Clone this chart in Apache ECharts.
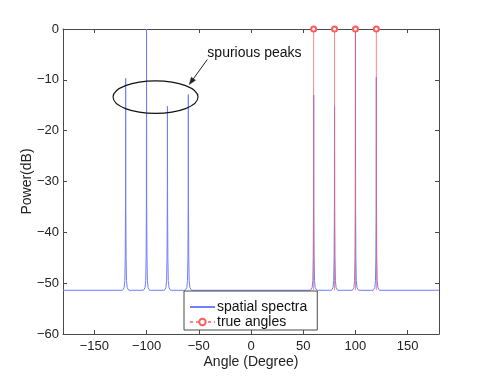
<!DOCTYPE html>
<html>
<head>
<meta charset="utf-8">
<script src="https://cdn.jsdelivr.net/npm/echarts@6/dist/echarts.min.js"></script>
<style>html,body{margin:0;padding:0;background:#fff}#c{width:485px;height:377px}</style>
</head>
<body>
<div id="c"></div>
<script>
// ---- data ----
const xTicks = [-150, -100, -50, 0, 50, 100, 150];
const yTicks = [-60, -50, -40, -30, -20, -10, 0];
const baselineDb = -51.4;
const trueAngles = [60, 80, 100, 120];
const trueAnglePower = [0, 0, 0, 0];
// spatial spectrum (Angle in degrees, power in dB)
const spectrumAngle = [
  -180,
  -123, -121.5, -120.8, -120.4, -120.15, -120, -119.85, -119.6, -119.2, -118.5, -117,
  -103, -101.5, -100.8, -100.4, -100.15, -100, -99.85, -99.6, -99.2, -98.5, -97,
  -83, -81.5, -80.8, -80.4, -80.15, -80, -79.85, -79.6, -79.2, -78.5, -77,
  -63, -61.5, -60.8, -60.4, -60.15, -60, -59.85, -59.6, -59.2, -58.5, -57,
  57, 58.5, 59.2, 59.6, 59.85, 60, 60.15, 60.4, 60.8, 61.5, 63,
  77, 78.5, 79.2, 79.6, 79.85, 80, 80.15, 80.4, 80.8, 81.5, 83,
  97, 98.5, 99.2, 99.6, 99.85, 100, 100.15, 100.4, 100.8, 101.5, 103,
  117, 118.5, 119.2, 119.6, 119.85, 120, 120.15, 120.4, 120.8, 121.5, 123,
  180
];
const spectrumPower = [
  -51.4,
  -51.4, -50.9, -49.5, -45, -35, -9.7, -35, -45, -49.5, -50.9, -51.4,
  -51.4, -50.9, -49.5, -45, -35, 0, -35, -45, -49.5, -50.9, -51.4,
  -51.4, -50.9, -49.5, -45, -35, -15.2, -35, -45, -49.5, -50.9, -51.4,
  -51.4, -50.9, -49.5, -45, -35, -12.9, -35, -45, -49.5, -50.9, -51.4,
  -51.4, -50.9, -49.5, -45, -35, -13, -35, -45, -49.5, -50.9, -51.4,
  -51.4, -50.9, -49.5, -45, -35, -15.2, -35, -45, -49.5, -50.9, -51.4,
  -51.4, -50.9, -49.5, -45, -35, 0, -35, -45, -49.5, -50.9, -51.4,
  -51.4, -50.9, -49.5, -45, -35, -9.5, -35, -45, -49.5, -50.9, -51.4,
  -51.4
];
// annotation (data coordinates)
const noteText = 'spurious peaks';
const noteAnchor = [-41.8, -4.7];
const arrowFrom = [-41.8, -6.0];
const arrowTo = [-59.1, -10.9];
const ellipseCenter = [-91.4, -13.4];
const ellipseRadius = [40.7, 3.2];

// ---- chart ----
const FONT = 'Liberation Sans, Arial, sans-serif';
const AX = '#4a4a4a';
const BLUE = '#6e7fff';
const RED = '#ff5c5c';
const chart = echarts.init(document.getElementById('c'), null, {renderer: 'canvas'});

const specData = spectrumAngle.map((a, i) => [a, spectrumPower[i]]);
const stemData = [];
trueAngles.forEach((a, i) => {
  stemData.push({value: [a, baselineDb], symbol: 'none'});
  stemData.push({value: [a, trueAnglePower[i]]});
  stemData.push('-');
});
const minus = v => String(v).replace('-', '\u2212');

const axisCommon = {
  axisLine: {show: true, onZero: false, lineStyle: {color: AX, width: 1}},
  axisTick: {show: true, inside: true, length: 4, lineStyle: {color: AX}},
  splitLine: {show: false}
};

chart.setOption({
  animation: false,
  backgroundColor: '#fff',
  grid: {left: 63, right: 46, top: 29, bottom: 43, containLabel: false},
  xAxis: [
    Object.assign({
      type: 'value', min: -180, max: 180, position: 'bottom',
      name: 'Angle (Degree)', nameLocation: 'middle', nameGap: 21, nameMoveOverlap: false,
      nameTextStyle: {fontFamily: FONT, fontSize: 14, color: '#222'},
      axisLabel: {customValues: xTicks, fontFamily: FONT, fontSize: 13, color: '#222', margin: 6, formatter: minus}
    }, axisCommon, {axisTick: {show: true, inside: true, length: 4, customValues: xTicks, lineStyle: {color: AX}}}),
    Object.assign({
      type: 'value', min: -180, max: 180, position: 'top',
      axisLabel: {show: false}
    }, axisCommon, {axisTick: {show: true, inside: true, length: 4, customValues: xTicks, lineStyle: {color: AX}}})
  ],
  yAxis: [
    Object.assign({
      type: 'value', min: -60, max: 0, interval: 10, position: 'left',
      name: 'Power(dB)', nameLocation: 'middle', nameGap: 36, nameRotate: 90, nameMoveOverlap: false,
      nameTextStyle: {fontFamily: FONT, fontSize: 14, color: '#222', verticalAlign: 'middle'},
      axisLabel: {fontFamily: FONT, fontSize: 13, color: '#222', margin: 4, formatter: minus}
    }, axisCommon),
    Object.assign({
      type: 'value', min: -60, max: 0, interval: 10, position: 'right',
      axisLabel: {show: false}
    }, axisCommon)
  ],
  legend: {
    orient: 'vertical', left: 184, top: 291,
    padding: [9, 10, 1, 5], itemGap: 1, itemWidth: 25, itemHeight: 8,
    backgroundColor: '#fff', borderColor: AX, borderWidth: 1, borderRadius: 0,
    textStyle: {fontFamily: FONT, fontSize: 14, color: '#111', padding: [0, 0, 0, -3]},
    data: [
      {name: 'spatial spectra', itemStyle: {opacity: 0}},
      {name: 'true angles', lineStyle: {type: [3, 3]}}
    ]
  },
  series: [
    {
      name: 'spatial spectra', type: 'line', data: specData,
      showSymbol: false, symbol: 'none',
      lineStyle: {color: BLUE, width: 1},
      itemStyle: {color: BLUE},
      z: 2
    },
    {
      name: 'true angles', type: 'line', data: stemData,
      connectNulls: false,
      symbol: 'emptyCircle', symbolSize: 5, showSymbol: true,
      lineStyle: {color: RED, width: 1, opacity: 0.75},
      itemStyle: {color: RED, borderColor: RED, borderWidth: 1},
      z: 3
    }
  ]
});

function drawNotes() {
  const P = p => chart.convertToPixel({gridIndex: 0}, p);
  const c = P(ellipseCenter);
  const r1 = P([ellipseCenter[0] + ellipseRadius[0], ellipseCenter[1] + ellipseRadius[1]]);
  const rx = Math.abs(r1[0] - c[0]), ry = Math.abs(r1[1] - c[1]);
  const t = P(noteAnchor);
  const a0 = P(arrowFrom), a1 = P(arrowTo);
  const dx = a1[0] - a0[0], dy = a1[1] - a0[1];
  const L = Math.hypot(dx, dy), ux = dx / L, uy = dy / L;
  const hl = 7, hw = 2.6;
  const bx = a1[0] - ux * hl, by = a1[1] - uy * hl;
  chart.setOption({
    graphic: [
      {type: 'ellipse', shape: {cx: c[0], cy: c[1], rx: rx, ry: ry},
       style: {fill: 'none', stroke: '#111', lineWidth: 1.1}, z: 10},
      {type: 'text', x: t[0], y: t[1],
       style: {text: noteText, fontFamily: FONT, fontSize: 14, fill: '#111', verticalAlign: 'middle', align: 'left'}, z: 10},
      {type: 'line', shape: {x1: a0[0], y1: a0[1], x2: bx, y2: by},
       style: {stroke: '#222', lineWidth: 1}, z: 10},
      {type: 'polygon', shape: {points: [[a1[0], a1[1]], [bx - uy * hw, by + ux * hw], [bx + uy * hw, by - ux * hw]]},
       style: {fill: '#222', stroke: '#222', lineWidth: 0.5}, z: 10}
    ]
  });
}
drawNotes();
</script>
</body>
</html>
